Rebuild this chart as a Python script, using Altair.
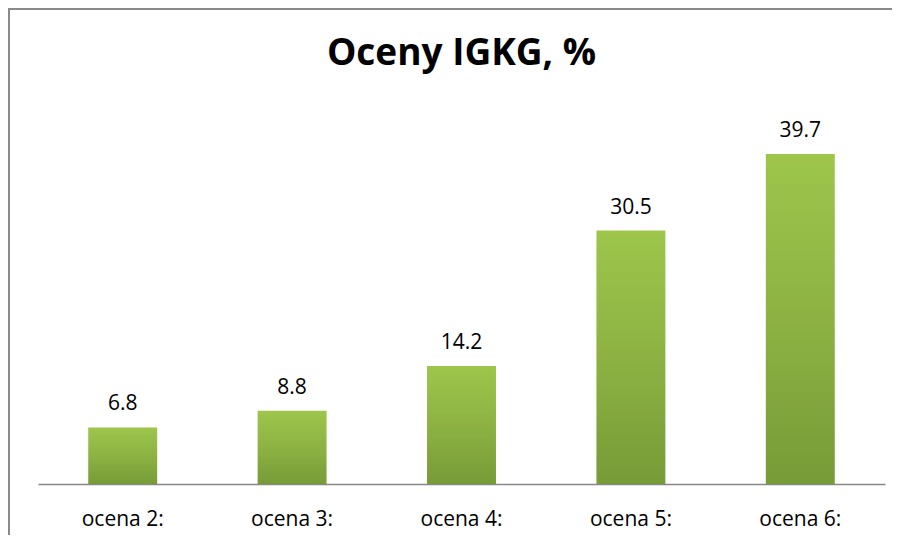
import altair as alt
import pandas as pd

categories = ["ocena 2:", "ocena 3:", "ocena 4:", "ocena 5:", "ocena 6:"]
values = [6.8, 8.8, 14.2, 30.5, 39.7]
labels = ["6.8", "8.8", "14.2", "30.5", "39.7"]
title_text = ["Oceny IGKG, %"]

df = pd.DataFrame({"cat": categories, "val": values, "lab": labels})
tdf = pd.DataFrame({"t": title_text})

FONT = "Open Sans"

x_enc = alt.X("cat:N", sort=categories,
              scale=alt.Scale(paddingInner=0.593, paddingOuter=0.2965),
              axis=alt.Axis(title=None, labelAngle=0, ticks=False, tickSize=0,
                            labelPadding=41, labelBaseline="alphabetic",
                            labelFont=FONT, labelFontSize=21, labelColor="#000000",
                            domainColor="#878787", domainWidth=1.5, grid=False))
y_enc = alt.Y("val:Q", scale=alt.Scale(domain=[0, 45]), axis=None)

base = alt.Chart(df)

bars = base.mark_bar(
    color=alt.Gradient(gradient="linear",
                       stops=[alt.GradientStop(color="#9DC64B", offset=0),
                              alt.GradientStop(color="#8DB243", offset=0.5),
                              alt.GradientStop(color="#779B37", offset=1)],
                       x1=0, x2=0, y1=0, y2=1)
).encode(x=x_enc, y=y_enc)

text = base.mark_text(font=FONT, fontSize=21, color="#000000",
                      baseline="alphabetic", dy=-17).encode(
    x=alt.X("cat:N", sort=categories), y="val:Q", text="lab:N")

title = alt.Chart(tdf).mark_text(font=FONT, fontSize=37, fontWeight="bold",
                                 color="#000000", baseline="alphabetic",
                                 align="center").encode(
    x=alt.value(423.5), y=alt.value(-45), text="t:N")

border_left = alt.Chart(df).mark_rule(color="#8a8a8a", strokeWidth=2).encode(
    x=alt.value(-29), y=alt.value(-102), y2=alt.value(430))
border_top = alt.Chart(df).mark_rule(color="#8a8a8a", strokeWidth=2).encode(
    x=alt.value(-29), x2=alt.value(870), y=alt.value(-101))

chart = alt.layer(bars, text, title, border_left, border_top).properties(
    width=847, height=374,
    autosize=alt.AutoSizeParams(type="none"),
    padding={"left": 30, "top": 102, "right": 7, "bottom": 51},
).configure_view(stroke=None)

chart.save("out.html", embed_options={"renderer": "svg", "actions": False})
